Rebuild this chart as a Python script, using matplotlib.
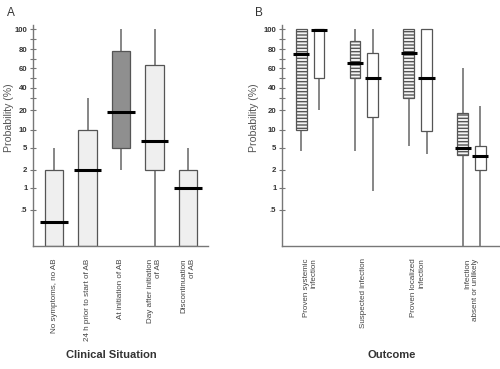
import numpy as np
import matplotlib
matplotlib.use("Agg")
import matplotlib.pyplot as plt
from matplotlib.patches import Rectangle
from matplotlib.transforms import blended_transform_factory

plt.rcParams['font.family'] = ['Liberation Sans', 'DejaVu Sans']
plt.rcParams['hatch.linewidth'] = 1.0
plt.rcParams['hatch.color'] = '#555555'

# ---------------- data ----------------
cats_a = ["No symptoms, no AB", "24 h prior to start of AB", "At initiation of AB",
          "Day after initiation\nof AB", "Discontinuation\nof AB"]
a_low = [0, 0, 2, 0, 0]
a_q1 = [0, 0, 5, 2, 0]
a_med = [0.33, 2, 19, 7, 1]
a_q3 = [2, 10, 78, 63, 2]
a_high = [5, 30, 100, 100, 5]
a_dark = [False, False, True, False, False]

cats_b = ["Proven systemic\ninfection", "Suspected infection",
          "Proven localized\ninfection", "Infection\nabsent or unlikely"]
# hatched series
bh_low = [4.6, 4.6, 5.5, 0]
bh_q1 = [10, 50, 30, 4.0]
bh_med = [75, 66, 76, 5.0]
bh_q3 = [100, 88, 100, 18.8]
bh_high = [100, 100, 100, 60]
# open series
bo_low = [20, 0.93, 4.15, 0]
bo_q1 = [50, 16.8, 9.7, 2]
bo_med = [99, 50, 50, 3.9]
bo_q3 = [100, 75.5, 100, 5.5]
bo_high = [100, 100, 100, 23.4]

ytick_vals = [100, 80, 60, 40, 20, 10, 5, 2, 1, 0.5]
ytick_labels = ["100", "80", "60", "40", "20", "10", "5", "2", "1", ".5"]
yminor_vals = [90, 70, 50, 30]

# ---------------- custom axis scale (piecewise, as printed) ----------------
scale_vals = np.array([0, 0.5, 1, 2, 5, 10, 20, 30, 40, 60, 80, 100, 120])
scale_pix = np.array([246, 210, 187.7, 170, 147.7, 130, 110.3, 97.7, 87.7, 68.3, 49, 29.3, 9.6])
scale_pos = 246 - scale_pix

def fwd(v):
    return np.interp(v, scale_vals, scale_pos)

def inv(p):
    return np.interp(p, scale_pos, scale_vals)

W, H = 500, 369
fig = plt.figure(figsize=(W / 100, H / 100), dpi=100)

def make_ax(left, right, top=25, bottom=246):
    ax = fig.add_axes([left / W, 1 - bottom / H, (right - left) / W, (bottom - top) / H])
    ax.set_yscale('function', functions=(fwd, inv))
    ax.set_ylim(0, inv(221))
    for s in ['top', 'right']:
        ax.spines[s].set_visible(False)
    for s in ['left', 'bottom']:
        ax.spines[s].set_color('#777777')
        ax.spines[s].set_linewidth(1.0)
    ax.set_yticks(ytick_vals)
    ax.set_yticklabels(ytick_labels)
    ax.set_yticks(yminor_vals, minor=True)
    ax.yaxis.set_minor_formatter(plt.NullFormatter())
    ax.tick_params(axis='y', which='both', direction='inout', length=4, width=0.8,
                   color='#777777', labelsize=5.6, labelcolor='#333333', pad=2)
    for t in ax.get_yticklabels():
        t.set_fontweight('bold')
    ax.tick_params(axis='x', length=0, pad=9, labelsize=5.8, labelcolor='#444444')
    ax.patch.set_alpha(0)
    return ax

edge = '#555555'
wcol = '#666666'

def draw_box(ax, x, w, lo, q1, med, q3, hi, fc, hatch=None):
    ax.vlines(x, q3, hi, color=wcol, lw=1.1, zorder=1)
    ax.vlines(x, lo, q1, color=wcol, lw=1.1, zorder=1)
    y0 = fwd(q1)
    r = Rectangle((x - w / 2, q1), w, q3 - q1, facecolor=fc, edgecolor=edge,
                  lw=0.9, hatch=hatch, zorder=2)
    ax.add_patch(r)
    ax.hlines(med, x - w * 0.75, x + w * 0.75, color='black', lw=2.2, zorder=3)

# ---------------- Panel A ----------------
axA = make_ax(33, 208)
xa = np.arange(1, len(cats_a) + 1)
wa = 0.55
for i, x in enumerate(xa):
    fc = '#8f8f8f' if a_dark[i] else '#efefef'
    draw_box(axA, x, wa, a_low[i], a_q1[i], a_med[i], a_q3[i], a_high[i], fc)
axA.set_xlim(1 - 21 / 33.5, 5 + 20 / 33.5)
axA.set_xticks(xa)
axA.set_xticklabels(cats_a, rotation=90, va='top', ha='center')
for t in axA.get_xticklabels():
    t.set_multialignment('right')

# ---------------- Panel B ----------------
axB = make_ax(282, 500)
xb = np.arange(1, len(cats_b) + 1)
wb = 0.2
off = 0.165
for i, x in enumerate(xb):
    draw_box(axB, x - off, wb, bh_low[i], bh_q1[i], bh_med[i], bh_q3[i], bh_high[i],
             '#f4f4f4', hatch='-----')
    draw_box(axB, x + off, wb, bo_low[i], bo_q1[i], bo_med[i], bo_q3[i], bo_high[i],
             'white')
axB.set_xlim(1 - 28 / 53.8, 4 + 28.5 / 53.8)
axB.set_xticks(xb)
axB.set_xticklabels(cats_b, rotation=90, va='top', ha='center')
for t in axB.get_xticklabels():
    t.set_multialignment('right')

# ---------------- texts ----------------
for xc in (9, 254):
    fig.text(xc / W, 1 - 117.5 / H, "Probability (%)", rotation=90, ha='center',
             va='center', fontsize=7.6, color='#555555')
fig.text(111 / W, 1 - 355 / H, "Clinical Situation", ha='center', va='center',
         fontsize=8, fontweight='bold', color='#333333')
fig.text(392 / W, 1 - 355 / H, "Outcome", ha='center', va='center',
         fontsize=8, fontweight='bold', color='#333333')
fig.text(11 / W, 1 - 13 / H, "A", ha='center', va='center', fontsize=8.5, color='#333333')
fig.text(259 / W, 1 - 13 / H, "B", ha='center', va='center', fontsize=8.5, color='#333333')

fig.savefig("out.png", dpi=100)
